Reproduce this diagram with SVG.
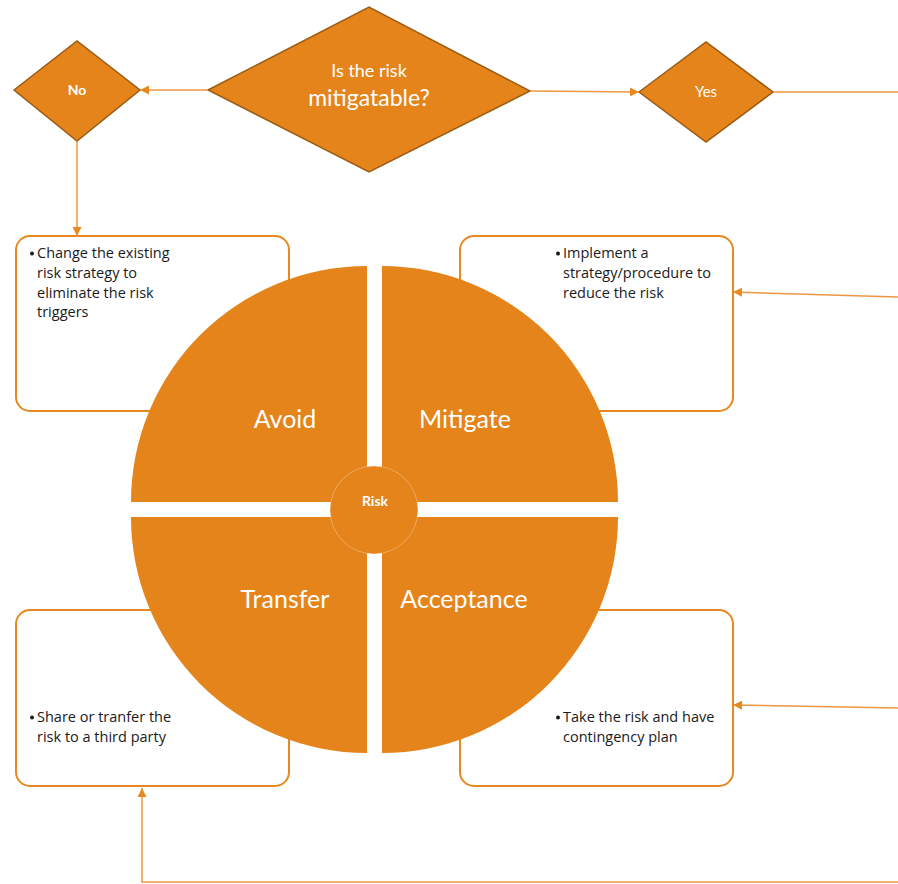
<svg xmlns="http://www.w3.org/2000/svg" width="898" height="884" viewBox="0 0 898 884">
  <style>
    .dia { fill: #E5841A; stroke: #9A5C14; stroke-width: 1.5; }
    .box { fill: #FFFFFF; stroke: #E8891F; stroke-width: 2; }
    .quad { fill: #E5841A; }
    .edge { fill: none; stroke: #EE9640; stroke-width: 1.5; }
    .lbl { font-family: Lato, "Open Sans", sans-serif; fill: #FFFFFF; text-anchor: middle; }
    .body { font-family: "Open Sans", Lato, sans-serif; font-size: 14.5px; fill: #1A1A1A; }
    .dot { fill: #1A1A1A; }
  </style>
  <defs>
    <marker id="arrow" viewBox="0 0 10 10" refX="10" refY="5" markerWidth="9" markerHeight="9" markerUnits="userSpaceOnUse" orient="auto">
      <path d="M0,0 L10,5 L0,10 Z" fill="#E8891F"/>
    </marker>
  </defs>

  <rect width="898" height="884" fill="#FFFFFF"/>

  <!-- strategy boxes -->
  <g id="box-avoid">
    <rect class="box" x="16" y="236" width="273" height="175" rx="14"/>
    <circle class="dot" cx="32" cy="253.5" r="2"/>
    <text class="body"><tspan x="37" y="258">Change the existing</tspan><tspan x="37" y="278">risk strategy to</tspan><tspan x="37" y="298">eliminate the risk</tspan><tspan x="37" y="317">triggers</tspan></text>
  </g>
  <g id="box-mitigate">
    <rect class="box" x="460" y="236" width="273" height="175" rx="14"/>
    <circle class="dot" cx="558" cy="253.5" r="2"/>
    <text class="body"><tspan x="563" y="258">Implement a</tspan><tspan x="563" y="278">strategy/procedure to</tspan><tspan x="563" y="298">reduce the risk</tspan></text>
  </g>
  <g id="box-transfer">
    <rect class="box" x="16" y="610" width="273" height="176" rx="14"/>
    <circle class="dot" cx="32" cy="717.5" r="2"/>
    <text class="body"><tspan x="37" y="722">Share or tranfer the</tspan><tspan x="37" y="742">risk to a third party</tspan></text>
  </g>
  <g id="box-acceptance">
    <rect class="box" x="460" y="610" width="273" height="176" rx="14"/>
    <circle class="dot" cx="558" cy="717.5" r="2"/>
    <text class="body"><tspan x="563" y="722">Take the risk and have</tspan><tspan x="563" y="742">contingency plan</tspan></text>
  </g>

  <!-- quartered risk wheel -->
  <g id="wheel">
    <path class="quad" d="M367,502 L131,502 A236,236 0 0 1 367,266 Z"/>
    <path class="quad" d="M382,502 L382,266 A236,236 0 0 1 618,502 Z"/>
    <path class="quad" d="M367,517 L367,753 A236,236 0 0 1 131,517 Z"/>
    <path class="quad" d="M382,517 L618,517 A236,236 0 0 1 382,753 Z"/>
    <text class="lbl" x="285" y="428" font-size="25">Avoid</text>
    <text class="lbl" x="465" y="428" font-size="25">Mitigate</text>
    <text class="lbl" x="285" y="608" font-size="25">Transfer</text>
    <text class="lbl" x="464" y="608" font-size="25">Acceptance</text>
  </g>
  <g id="risk-hub">
    <circle cx="374" cy="510" r="44" fill="#E5841A" stroke="#FFFFFF" stroke-opacity="0.3" stroke-width="1"/>
    <text class="lbl" x="375" y="506" font-size="14" font-weight="bold">Risk</text>
  </g>

  <!-- decision diamonds -->
  <g id="decision">
    <polygon class="dia" points="208,90 369,7 530,91 369,172"/>
    <text class="lbl" x="369" y="77" font-size="18">Is the risk</text>
    <text class="lbl" x="369" y="106" font-size="23">mitigatable?</text>
  </g>
  <g id="no">
    <polygon class="dia" points="14,90 77,41 140,90 77,141"/>
    <text class="lbl" x="77" y="95" font-size="14" font-weight="bold">No</text>
  </g>
  <g id="yes">
    <polygon class="dia" points="639,92 706,42 773,92 706,142"/>
    <text class="lbl" x="706" y="97" font-size="15">Yes</text>
  </g>

  <!-- connectors -->
  <g id="connectors">
    <path class="edge" d="M208,90 L140,90" marker-end="url(#arrow)"/>
    <path class="edge" d="M530,91 L639,92" marker-end="url(#arrow)"/>
    <path class="edge" d="M77,141 L77,236" marker-end="url(#arrow)"/>
    <path class="edge" d="M773,92 L898,92"/>
    <path class="edge" d="M898,297 L733,292" marker-end="url(#arrow)"/>
    <path class="edge" d="M898,708 L733,705" marker-end="url(#arrow)"/>
    <path class="edge" d="M898,882 L142,882 L142,788" marker-end="url(#arrow)"/>
  </g>
</svg>
